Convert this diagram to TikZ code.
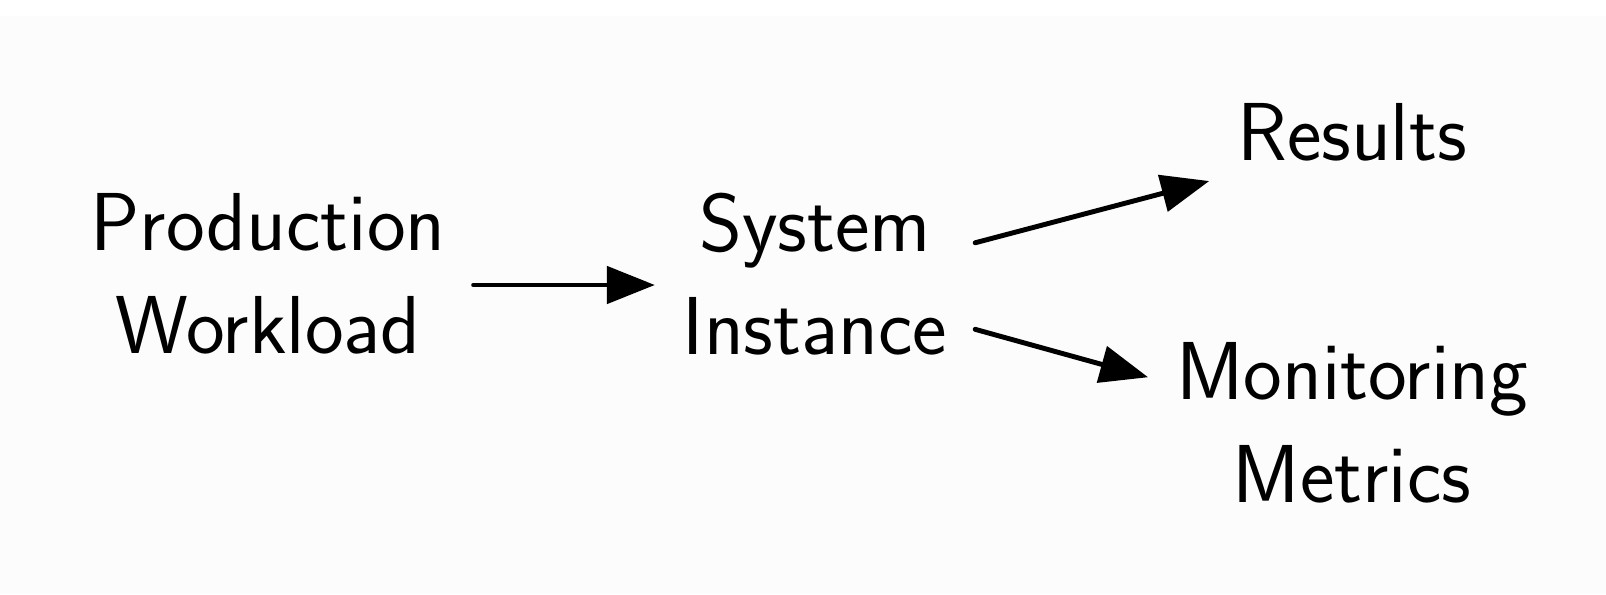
\documentclass[tikz,border=0pt]{standalone}
\usepackage{xcolor}
\usepackage{tikz}
\usetikzlibrary{arrows.meta}
\definecolor{bgpage}{RGB}{252,252,252}

\begin{document}
\begin{tikzpicture}[
      lbl/.style={inner sep=0pt, outer sep=0.28cm, align=center, font=\sffamily\fontsize{23.4}{29.4}\selectfont},
      arr/.style={-{Triangle[length=4.8mm, width=3.7mm]}, line width=1.4pt, line cap=round, transform canvas={yshift=-1.1mm}}]
    \useasboundingbox (0,0) rectangle (16.06,5.94);
    \fill[bgpage] (0,0) rectangle (16.06,5.78);
    \node[lbl] (prod) at (2.68,3.2) {Production\\Workload};
    \node[lbl] (sys) at (8.15,3.2) {System\\Instance};
    \node[lbl] (res) at (13.52,4.615) {Results};
    \node[lbl] (mon) at (13.52,1.715) {Monitoring\\Metrics};
    \draw[arr] (prod) -- (sys);
    \draw[arr] (sys) -- (res);
    \draw[arr] (sys) -- (mon);
  \end{tikzpicture}
\end{document}
